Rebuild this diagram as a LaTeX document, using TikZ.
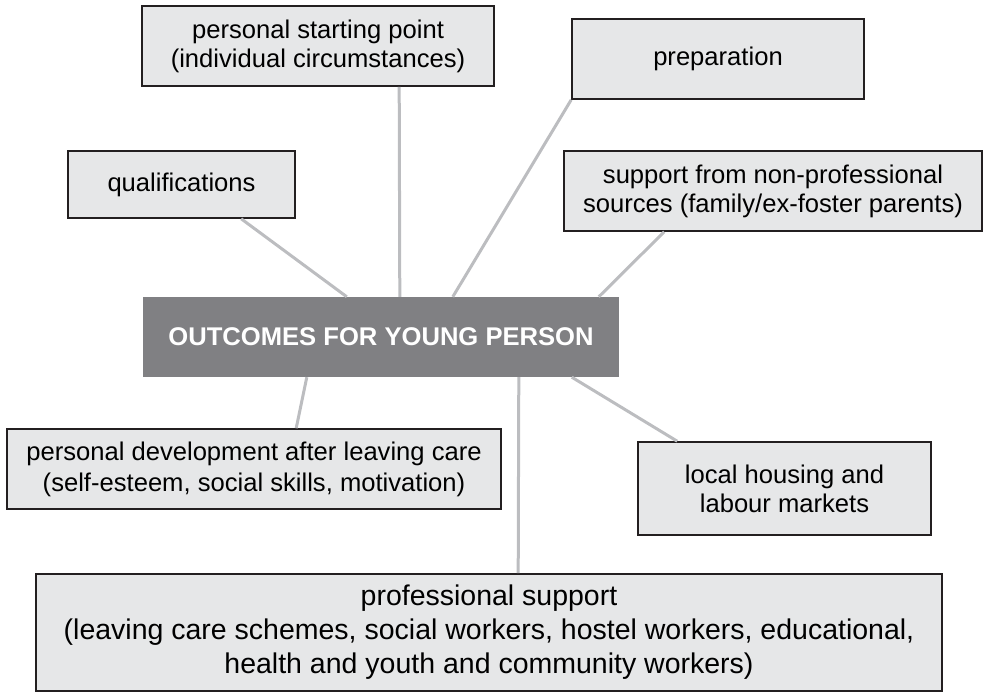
\documentclass[tikz,border=0pt]{standalone}
\usepackage{fontspec}
\setmainfont{Liberation Sans}
\definecolor{boxfill}{HTML}{E6E7E8}
\definecolor{boxline}{HTML}{231F20}
\definecolor{hubfill}{HTML}{808083}
\definecolor{linkgray}{HTML}{BCBDC0}
\begin{document}
\begin{tikzpicture}[x=1pt,y=-1pt,
  box/.style={draw=boxline, line width=1.6pt, fill=boxfill, align=center,
    inner sep=0pt, text=black, font=\fontsize{25.6}{29}\selectfont},
  hub/.style={fill=hubfill, inner sep=0pt, text=white,
    font=\bfseries\fontsize{25.6}{29}\selectfont},
  link/.style={draw=linkgray, line width=3pt}]
\useasboundingbox (0,0) rectangle (986,694);

% central outcome box
\node[hub, minimum width=476pt, minimum height=80pt] (out) at (381,337) {OUTCOMES FOR YOUNG PERSON};

% influencing factors
\node[box, minimum width=352pt, minimum height=80pt] (start) at (318,46)
  {personal starting point\\(individual circumstances)};
\node[box, minimum width=292pt, minimum height=80pt] (prep) at (718,59)
  {preparation};
\node[box, minimum width=227pt, minimum height=67pt] (qual) at (181.5,184.5)
  {qualifications};
\node[box, minimum width=418pt, minimum height=80pt] (family) at (773,191)
  {support from non-professional\\sources (family/ex-foster parents)};
\node[box, minimum width=494pt, minimum height=80pt, font=\fontsize{25.6}{31}\selectfont] (devel) at (254,469)
  {personal development after leaving care\\(self-esteem, social skills, motivation)};
\node[box, minimum width=293pt, minimum height=93pt] (housing) at (784.5,488.5)
  {local housing and\\labour markets};
\node[box, minimum width=906pt, minimum height=117pt, font=\fontsize{28.5}{34}\selectfont] (prof) at (489,632.5)
  {professional support\\(leaving care schemes, social workers, hostel workers, educational,\\health and youth and community workers)};

% connectors to the central box
\draw[link] ([xshift=174pt]qual.south west) -- ([xshift=204pt]out.north west);
\draw[link] ([xshift=258pt]start.south west) -- ([xshift=257pt]out.north west);
\draw[link] (prep.south west) -- ([xshift=310pt]out.north west);
\draw[link] ([xshift=101pt]family.south west) -- ([xshift=456pt]out.north west);
\draw[link] ([xshift=290pt]devel.north west) -- ([xshift=164pt]out.south west);
\draw[link] ([xshift=40pt]housing.north west) -- ([xshift=429pt]out.south west);
\draw[link] ([xshift=483pt]prof.north west) -- ([xshift=376pt]out.south west);
\end{tikzpicture}
\end{document}
